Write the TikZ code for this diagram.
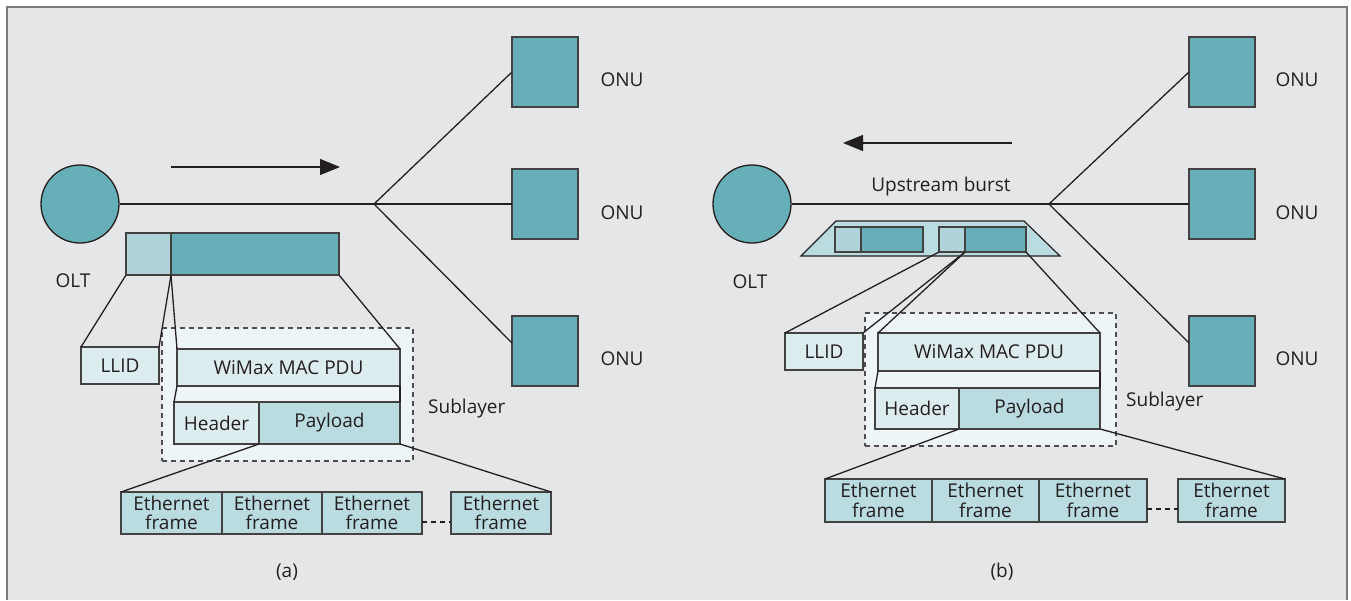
\documentclass[tikz,border=0pt]{standalone}
\usepackage{fontspec}
\setmainfont{Open Sans}
\usetikzlibrary{arrows.meta}

\definecolor{bgpanel}{HTML}{E5E6E8}
\definecolor{framegray}{HTML}{7B7B7B}
\definecolor{ink}{HTML}{231F20}
\definecolor{tealdark}{HTML}{66AFB8}
\definecolor{teallight}{HTML}{AED3D8}
\definecolor{tealpale}{HTML}{DDECEF}
\definecolor{tealmid}{HTML}{BADBDF}
\definecolor{subfill}{HTML}{EEF5F7}

\tikzset{
  lbl/.style={font=\fontsize{19}{21}\selectfont, text=ink, inner sep=0pt},
  cell/.style={draw=ink!85, line width=1.3pt, inner sep=0pt, outer sep=0pt,
               anchor=north west, font=\fontsize{19}{20}\selectfont, text=ink, align=center},
  ethcell/.style={cell, fill=tealmid, font=\fontsize{19}{19.5}\selectfont},
  olt/.style={circle, draw=ink, line width=1.3pt, fill=tealdark, minimum size=78pt, inner sep=0pt},
  onu/.style={cell, fill=tealdark, minimum width=66pt, minimum height=70pt},
  link/.style={draw=ink, line width=1.3pt},
  dir/.style={draw=ink, line width=1.3pt, -{Triangle[length=20pt,width=16pt]}},
  sub/.style={draw=ink!80, line width=1.2pt, dash pattern=on 5pt off 4pt, fill=subfill,
              anchor=north west, inner sep=0pt, outer sep=0pt},
  gap/.style={draw=ink, line width=2.6pt, dash pattern=on 5pt off 4pt},
}

\begin{document}
\begin{tikzpicture}[x=1pt, y=-1pt]
\useasboundingbox (0,0) rectangle (1351,600);
% panel background and frame
\fill[bgpanel] (7,7) rectangle (1347,600);
\draw[framegray, line width=2.2pt] (7,600) -- (7,7) -- (1347,7) -- (1347,600);

% ================= (a) downstream =================
\node[olt] (oltA) at (80,204) {};
\node[lbl] (oltAlbl) at (73,281) {OLT};
\coordinate (splitA) at (374,204);
\node[onu] (onuA1) at (512,37) {};
\node[onu] (onuA2) at (512,169) {};
\node[onu] (onuA3) at (512,316) {};
\node[lbl] (onuA1lbl) at (622,80) {ONU};
\node[lbl] (onuA2lbl) at (622,213) {ONU};
\node[lbl] (onuA3lbl) at (622,359) {ONU};
\draw[link] (oltA.east) -- (splitA);
\draw[link] (splitA) -- (onuA1.west);
\draw[link] (splitA) -- (onuA2.west);
\draw[link] (splitA) -- ([yshift=8pt]onuA3.west);
\coordinate (arrAs) at (171,167);
\coordinate (arrAe) at (340,167);
\draw[dir] (arrAs) -- (arrAe);

% downstream frame
\node[cell, fill=teallight, minimum width=45pt, minimum height=42pt] (llidbarA) at (126,233) {};
\node[cell, fill=tealdark, minimum width=168pt, minimum height=42pt] (pdubarA) at (171,233) {};

% sublayer
\node[sub, minimum width=251pt, minimum height=133pt] (subA) at (162,328) {};
\node[lbl, anchor=west] (subAlbl) at (428,409) {Sublayer};
\node[cell, fill=tealpale, minimum width=78pt, minimum height=37pt] (llidA) at (81,347) {LLID};
\node[cell, fill=tealpale, minimum width=223pt, minimum height=37pt] (wimaxA) at (177,349) {WiMax MAC PDU};
\node[cell, fill=tealpale, minimum width=85pt, minimum height=42pt] (headerA) at (174,402) {Header};
\node[cell, fill=tealmid, minimum width=141pt, minimum height=42pt] (payloadA) at (259,402) {Payload};

\draw[link] (llidbarA.south west) -- (llidA.north west);
\draw[link] (llidbarA.south east) -- (llidA.north east);
\draw[link] (llidbarA.south east) -- (wimaxA.north west);
\draw[link] (pdubarA.south east) -- (wimaxA.north east);
\draw[link] (wimaxA.south west) -- (headerA.north west);
\draw[link] (wimaxA.south east) -- (payloadA.north east);

% ethernet frames
\node[ethcell, minimum width=101pt, minimum height=42pt] (ethA1) at (121,492) {Ethernet\\frame};
\node[ethcell, minimum width=100pt, minimum height=42pt] (ethA2) at (222,492) {Ethernet\\frame};
\node[ethcell, minimum width=100pt, minimum height=42pt] (ethA3) at (322,492) {Ethernet\\frame};
\node[ethcell, minimum width=100pt, minimum height=42pt] (ethA4) at (451,492) {Ethernet\\frame};
\draw[gap] ([yshift=12pt]ethA3.south east) -- ([yshift=12pt]ethA4.south west);
\draw[link] (payloadA.south west) -- (ethA1.north west);
\draw[link] (payloadA.south east) -- (ethA4.north east);

\node[lbl] (capA) at (287,572) {(a)};

% ================= (b) upstream =================
\node[olt] (oltB) at (752,204) {};
\node[lbl] (oltBlbl) at (750,282) {OLT};
\coordinate (splitB) at (1049,204);
\node[onu] (onuB1) at (1189,37) {};
\node[onu] (onuB2) at (1189,169) {};
\node[onu] (onuB3) at (1189,316) {};
\node[lbl] (onuB1lbl) at (1297,80) {ONU};
\node[lbl] (onuB2lbl) at (1297,213) {ONU};
\node[lbl] (onuB3lbl) at (1297,359) {ONU};
\draw[link] (oltB.east) -- (splitB);
\draw[link] (splitB) -- (onuB1.west);
\draw[link] (splitB) -- (onuB2.west);
\draw[link] (splitB) -- ([yshift=8pt]onuB3.west);
\coordinate (arrBs) at (1012,143);
\coordinate (arrBe) at (843,143);
\draw[dir] (arrBs) -- (arrBe);
\node[lbl] (burstlbl) at (941,187) {Upstream burst};

% upstream burst carrying two frames
\coordinate (trTL) at (836,221);
\coordinate (trTR) at (1024,221);
\coordinate (trBR) at (1060,256);
\coordinate (trBL) at (801,256);
\filldraw[fill=tealmid, draw=ink, line width=1.2pt] (trTL) -- (trTR) -- (trBR) -- (trBL) -- cycle;
\node[cell, fill=teallight, minimum width=26pt, minimum height=25pt] (pk1l) at (835,227) {};
\node[cell, fill=tealdark, minimum width=62pt, minimum height=25pt] (pk1d) at (861,227) {};
\node[cell, fill=teallight, minimum width=26pt, minimum height=25pt] (pk2l) at (939,227) {};
\node[cell, fill=tealdark, minimum width=61pt, minimum height=25pt] (pk2d) at (965,227) {};

% sublayer
\node[sub, minimum width=251pt, minimum height=133pt] (subB) at (865,313) {};
\node[lbl, anchor=west] (subBlbl) at (1126,402) {Sublayer};
\node[cell, fill=tealpale, minimum width=78pt, minimum height=37pt] (llidB) at (785,333) {LLID};
\node[cell, fill=tealpale, minimum width=222pt, minimum height=38pt] (wimaxB) at (878,333) {WiMax MAC PDU};
\node[cell, fill=tealpale, minimum width=84pt, minimum height=41pt] (headerB) at (875,388) {Header};
\node[cell, fill=tealmid, minimum width=141pt, minimum height=41pt] (payloadB) at (959,388) {Payload};

\draw[link] (pk2l.south west) -- (llidB.north west);
\draw[link] (pk2l.south east) -- (llidB.north east);
\draw[link] (pk2l.south east) -- (wimaxB.north west);
\draw[link] (pk2d.south east) -- (wimaxB.north east);
\draw[link] (wimaxB.south west) -- (headerB.north west);
\draw[link] (wimaxB.south east) -- (payloadB.north east);

% ethernet frames
\node[ethcell, minimum width=107pt, minimum height=43pt] (ethB1) at (825,479) {Ethernet\\frame};
\node[ethcell, minimum width=107pt, minimum height=43pt] (ethB2) at (932,479) {Ethernet\\frame};
\node[ethcell, minimum width=108pt, minimum height=43pt] (ethB3) at (1039,479) {Ethernet\\frame};
\node[ethcell, minimum width=107pt, minimum height=43pt] (ethB4) at (1178,479) {Ethernet\\frame};
\draw[gap] ([yshift=13pt]ethB3.south east) -- ([yshift=13pt]ethB4.south west);
\draw[link] (payloadB.south west) -- (ethB1.north west);
\draw[link] (payloadB.south east) -- (ethB4.north east);

\node[lbl] (capB) at (1002,572) {(b)};
\end{tikzpicture}
\end{document}
